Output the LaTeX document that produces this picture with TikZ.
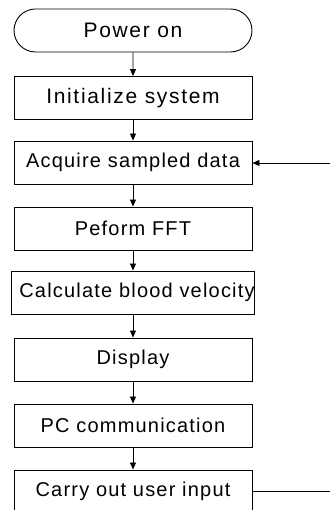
\documentclass[tikz,border=0pt]{standalone}
\usepackage{fontspec}
\setmainfont{Liberation Sans}
\usetikzlibrary{arrows.meta,shapes.misc}
\begin{document}
\begin{tikzpicture}[x=1pt,y=-1pt,
  every node/.style={font=\fontsize{20}{22}\selectfont\addfontfeature{LetterSpace=6}},
  bigtext/.style={font=\fontsize{21}{23}\selectfont\addfontfeature{LetterSpace=8}},
  stepbox/.style={draw,line width=0.9pt,minimum width=238pt,minimum height=43pt,inner sep=0pt},
  termbox/.style={stepbox,rounded rectangle},
  flow/.style={draw,line width=0.8pt,-{Triangle[length=7pt,width=6pt]}},
  link/.style={draw,line width=0.8pt}]
  \useasboundingbox (0,0) rectangle (332,510);
  \clip (0,0) rectangle (332,510);
  \node[termbox,bigtext] (power) at (133,30.5) {Power on};
  \node[stepbox,bigtext] (init) at (133,98) {Initialize system};
  \node[stepbox] (acq) at (133,162.5) {Acquire sampled data};
  \node[stepbox] (fft) at (133,228.5) {Peform FFT};
  % the long label sits slightly right, up against the box edge
  \node[stepbox] (calc) at (133,292.5) {\hspace*{8pt}Calculate blood velocity};
  \node[stepbox] (disp) at (133,359.5) {Display};
  \node[stepbox] (pc) at (133,425.5) {PC communication};
  \node[stepbox] (user) at (133,491.5) {Carry out user input};
  \coordinate (loopin) at (330,163);
  \coordinate (loopout) at (330,491);
  \path[flow] (power) -- (init);
  \path[flow] (init) -- (acq);
  \path[flow] (acq) -- (fft);
  \path[flow] (fft) -- (calc);
  \path[flow] (calc) -- (disp);
  \path[flow] (disp) -- (pc);
  \path[flow] (pc) -- (user);
  \path[flow] (loopin) -- (loopin -| acq.east);
  \path[link] (user.east |- loopout) -- (loopout);
\end{tikzpicture}
\end{document}
